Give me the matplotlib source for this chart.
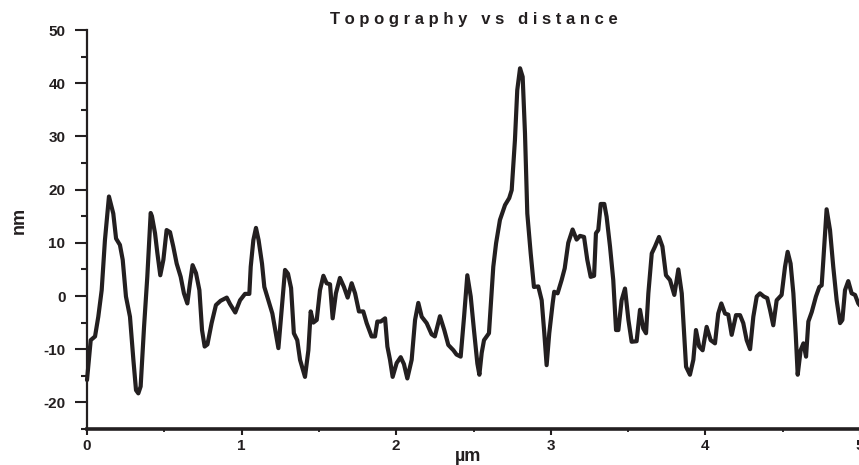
import matplotlib
matplotlib.use("Agg")
import matplotlib.pyplot as plt
from matplotlib.ticker import MultipleLocator

distance_um = [
    0.000, 0.024, 0.052, 0.073, 0.095, 0.116, 0.142, 0.170, 0.188, 0.213,
    0.231, 0.252, 0.278, 0.300, 0.317, 0.332, 0.347, 0.369, 0.390, 0.412,
    0.420, 0.440, 0.455, 0.474, 0.494, 0.515, 0.537, 0.558, 0.580, 0.606,
    0.627, 0.649, 0.666, 0.683, 0.705, 0.727, 0.744, 0.761, 0.779, 0.806,
    0.834, 0.864, 0.904, 0.925, 0.959, 0.990, 1.022, 1.050, 1.059, 1.076,
    1.093, 1.110, 1.132, 1.147, 1.173, 1.199, 1.216, 1.238, 1.259, 1.281,
    1.300, 1.320, 1.338, 1.360, 1.378, 1.410, 1.432, 1.447, 1.464, 1.486,
    1.507, 1.529, 1.550, 1.572, 1.589, 1.610, 1.636, 1.662, 1.686, 1.712,
    1.734, 1.759, 1.787, 1.809, 1.841, 1.863, 1.878, 1.900, 1.928, 1.943,
    1.960, 1.977, 2.003, 2.029, 2.050, 2.072, 2.100, 2.122, 2.143, 2.165,
    2.197, 2.229, 2.250, 2.283, 2.311, 2.337, 2.370, 2.390, 2.417, 2.439,
    2.460, 2.482, 2.503, 2.525, 2.538, 2.553, 2.568, 2.600, 2.628, 2.646,
    2.671, 2.704, 2.731, 2.747, 2.768, 2.783, 2.801, 2.818, 2.833, 2.848,
    2.870, 2.891, 2.919, 2.941, 2.958, 2.973, 2.990, 3.012, 3.022, 3.044,
    3.070, 3.090, 3.113, 3.141, 3.167, 3.189, 3.215, 3.236, 3.258, 3.280,
    3.292, 3.307, 3.323, 3.346, 3.361, 3.383, 3.404, 3.422, 3.437, 3.458,
    3.480, 3.502, 3.523, 3.555, 3.577, 3.598, 3.616, 3.631, 3.653, 3.674,
    3.700, 3.722, 3.745, 3.771, 3.799, 3.825, 3.847, 3.875, 3.900, 3.922,
    3.939, 3.960, 3.982, 4.008, 4.034, 4.062, 4.083, 4.103, 4.127, 4.148,
    4.170, 4.198, 4.224, 4.245, 4.267, 4.289, 4.310, 4.332, 4.353, 4.378,
    4.400, 4.418, 4.439, 4.461, 4.493, 4.515, 4.532, 4.551, 4.569, 4.584,
    4.597, 4.616, 4.634, 4.651, 4.666, 4.688, 4.715, 4.737, 4.752, 4.763,
    4.784, 4.806, 4.827, 4.849, 4.871, 4.886, 4.903, 4.924, 4.946, 4.968,
    4.989, 5.000,
]
height_nm = [
    -15.8, -8.3, -7.6, -3.9, 1.1, 10.5, 18.7, 15.5, 10.8, 9.6,
    6.8, -0.1, -3.9, -12.0, -17.7, -18.3, -17.0, -5.8, 3.6, 15.6,
    15.0, 11.8, 8.1, 3.9, 6.8, 12.4, 12.0, 9.3, 6.1, 3.6,
    0.5, -1.4, 2.4, 5.8, 4.3, 1.1, -6.4, -9.5, -9.1, -5.1,
    -1.7, -0.9, -0.3, -1.5, -3.1, -0.8, 0.4, 0.4, 5.5, 10.5,
    12.8, 10.5, 6.1, 1.7, -0.8, -3.3, -6.1, -9.8, -2.6, 4.9,
    4.2, 1.5, -7.0, -8.3, -12.0, -15.2, -10.2, -2.9, -5.0, -4.5,
    1.1, 3.8, 2.4, 2.2, -4.2, 0.5, 3.4, 1.7, -0.3, 2.4,
    0.5, -2.9, -2.9, -5.1, -7.6, -7.6, -4.8, -4.8, -4.2, -9.5,
    -12.0, -15.2, -12.6, -11.5, -12.8, -15.5, -12.0, -4.5, -1.3, -3.9,
    -5.1, -7.2, -7.6, -3.8, -6.4, -9.2, -10.2, -11.0, -11.4, -3.9,
    3.9, -0.1, -6.4, -12.7, -14.8, -10.7, -8.3, -7.0, 5.5, 9.9,
    14.3, 17.1, 18.4, 19.9, 29.3, 38.7, 42.8, 41.2, 30.6, 15.5,
    8.0, 1.7, 1.8, -0.8, -7.0, -13.0, -7.0, -1.4, 0.8, 0.5,
    3.0, 5.2, 10.0, 12.5, 10.6, 11.3, 11.1, 6.8, 3.6, 3.8,
    11.8, 12.4, 17.3, 17.3, 14.9, 9.3, 3.0, -6.4, -6.4, -0.8,
    1.4, -4.5, -8.6, -8.5, -2.6, -6.1, -7.0, 0.5, 8.0, 9.3,
    11.1, 9.3, 3.9, 3.0, 0.2, 5.0, 0.5, -13.3, -14.8, -12.0,
    -6.4, -9.5, -10.2, -5.8, -8.3, -8.9, -3.3, -1.4, -3.3, -3.5,
    -7.3, -3.6, -3.6, -5.1, -8.3, -10.0, -3.9, -0.1, 0.5, -0.1,
    -0.4, -2.6, -5.5, -0.8, 0.2, 5.5, 8.3, 6.1, 0.5, -7.0,
    -14.8, -10.2, -8.9, -11.4, -4.8, -3.0, -0.1, 1.7, 2.0, 6.8,
    16.3, 12.4, 5.5, -0.8, -5.1, -4.5, 1.1, 2.8, 0.5, 0.2,
    -1.4, -1.8,
]
x_ticks = [0, 1, 2, 3, 4, 5]
y_ticks = [-20, -10, 0, 10, 20, 30, 40, 50]
title_text = "Topography vs distance"
x_label = "µm"
y_label = "nm"

ink = "#231f20"
plt.rcParams["font.family"] = ["Liberation Sans", "DejaVu Sans"]
plt.rcParams["font.weight"] = "bold"

fig = plt.figure(figsize=(8.59, 4.65), dpi=100)
ax = fig.add_axes([87 / 859, 36 / 465, (860 - 87) / 859, (429 - 30) / 465])
ax.plot(distance_um, height_nm, color=ink, lw=3.0, solid_joinstyle="round",
        solid_capstyle="round", clip_on=False)

ax.set_xlim(0, 5)
ax.set_ylim(-25, 50)
ax.set_xticks(x_ticks)
ax.set_xticklabels([str(t) for t in x_ticks])
ax.set_yticks(y_ticks)
ax.set_yticklabels([str(t) for t in y_ticks])
ax.xaxis.set_minor_locator(MultipleLocator(0.5))
ax.yaxis.set_minor_locator(MultipleLocator(5))

for s in ("top", "right"):
    ax.spines[s].set_visible(False)
ax.spines["left"].set_linewidth(1.6)
ax.spines["bottom"].set_linewidth(2.6)
for s in ("left", "bottom"):
    ax.spines[s].set_color(ink)

ax.tick_params(axis="y", which="major", direction="out", length=8.5, width=1.5,
               color=ink, pad=7, labelsize=11, labelcolor=ink)
ax.tick_params(axis="y", which="minor", direction="out", length=4.5, width=1.5,
               color=ink)
ax.tick_params(axis="x", which="major", direction="out", length=4.5, width=1.5,
               color=ink, pad=3, labelsize=11, labelcolor=ink)
ax.tick_params(axis="x", which="minor", direction="out", length=2.5, width=1.3,
               color=ink)
for lab in ax.get_xticklabels() + ax.get_yticklabels():
    lab.set_fontweight("bold")

spaced = "   ".join(" ".join(word) for word in title_text.split(" "))
ax.set_title(spaced, fontsize=12, fontweight="bold", color=ink, pad=4)

fig.text(468 / 859, 1 - 456 / 465, x_label, ha="center", va="center",
         fontsize=13, fontweight="bold", color=ink)
fig.text(19 / 859, 1 - 220 / 465, y_label, ha="center", va="center",
         rotation=90, fontsize=13, fontweight="bold", color=ink)

fig.savefig("out.png", dpi=100)
